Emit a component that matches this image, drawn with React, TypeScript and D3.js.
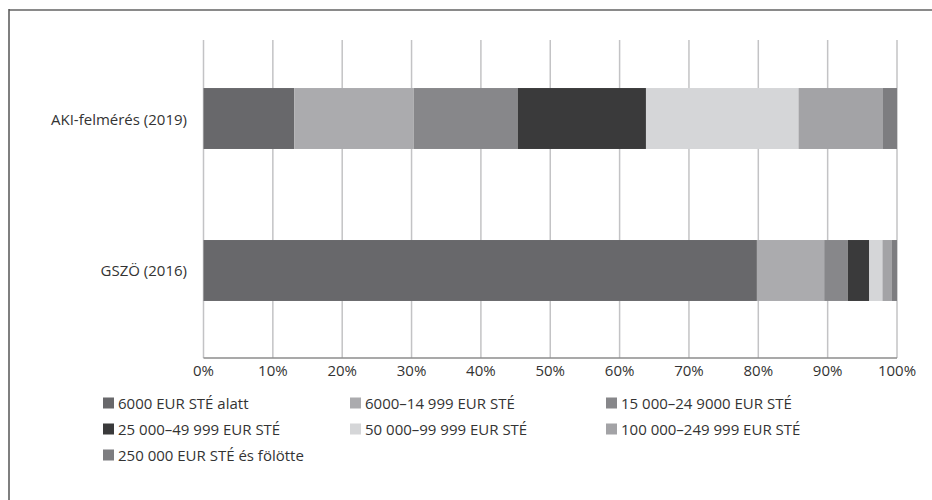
import React from "react";
import * as d3 from "d3";

const categories = ["AKI-felmérés (2019)", "GSZÖ (2016)"];
const seriesNames = [
  "6000 EUR STÉ alatt",
  "6000–14 999 EUR STÉ",
  "15 000–24 9000 EUR STÉ",
  "25 000–49 999 EUR STÉ",
  "50 000–99 999 EUR STÉ",
  "100 000–249 999 EUR STÉ",
  "250 000 EUR STÉ és fölötte",
];
const akiValues = [13.1, 17.2, 15.0, 18.5, 22.0, 12.1, 2.1];
const gszoValues = [79.8, 9.7, 3.4, 3.1, 1.9, 1.3, 0.8];
const colors = ["#68686b", "#ababae", "#87878a", "#3a3a3b", "#d5d6d8", "#a3a3a6", "#7d7d80"];
const tickValues = [0, 10, 20, 30, 40, 50, 60, 70, 80, 90, 100];

const FONT = "'Open Sans', Lato, sans-serif";

export default function App() {
  const W = 932;
  const H = 500;
  const x = d3.scaleLinear().domain([0, 100]).range([203.5, 897]);
  const y = d3
    .scaleBand<string>()
    .domain(categories)
    .range([40, 349])
    .paddingInner(0.599)
    .paddingOuter(0.316);
  const axisY = 358;
  const valuesByCat: Record<string, number[]> = {
    [categories[0]]: akiValues,
    [categories[1]]: gszoValues,
  };
  const rows = categories.map((c) => {
    const v = valuesByCat[c];
    const obj: Record<string, number | string> = { cat: c };
    seriesNames.forEach((s, i) => (obj[s] = v[i]));
    return obj;
  });
  const stack = d3.stack<Record<string, number | string>>().keys(seriesNames).value((d, k) => d[k] as number);
  const stacked = stack(rows);

  const legendCols = [103, 350, 606];
  const legendRows = [403, 429, 455];
  const fs = 15;
  const textColor = "#333";

  return (
    <svg
      width={W}
      height={H}
      style={{ position: "absolute", left: 0, top: 0, background: "#fff" }}
      fontFamily={FONT}
    >
      {/* frame */}
      <line x1={9} y1={10} x2={W} y2={10} stroke="#8a8a8a" strokeWidth={2} />
      <line x1={9} y1={9} x2={9} y2={H} stroke="#555" strokeWidth={1.5} />

      {/* gridlines */}
      {tickValues.map((t) => (
        <line key={t} x1={x(t)} x2={x(t)} y1={40} y2={axisY} stroke="#c3c3c5" strokeWidth={1.5} />
      ))}
      <line x1={x(0)} x2={x(100)} y1={axisY} y2={axisY} stroke="#8c8c8c" strokeWidth={1.5} />

      {/* bars */}
      {stacked.map((layer, i) =>
        layer.map((d) => {
          const cat = d.data.cat as string;
          return (
            <rect
              key={`${i}-${cat}`}
              x={x(d[0])}
              y={y(cat)}
              width={x(d[1]) - x(d[0])}
              height={y.bandwidth()}
              fill={colors[i]}
            />
          );
        })
      )}

      {/* category labels */}
      {categories.map((c) => (
        <text
          key={c}
          x={187}
          y={(y(c) as number) + y.bandwidth() / 2}
          textAnchor="end"
          dominantBaseline="central"
          fontSize={fs}
          fill={textColor}
        >
          {c}
        </text>
      ))}

      {/* x tick labels */}
      {tickValues.map((t) => (
        <text key={t} x={x(t)} y={370} textAnchor="middle" dominantBaseline="central" fontSize={fs} fill={textColor}>
          {`${t}%`}
        </text>
      ))}

      {/* legend */}
      {seriesNames.map((s, i) => {
        const lx = legendCols[i % 3];
        const ly = legendRows[Math.floor(i / 3)];
        return (
          <g key={s} transform={`translate(${lx},${ly})`}>
            <rect x={0} y={-5.5} width={11} height={11} fill={colors[i]} />
            <text x={15} y={0} dominantBaseline="central" fontSize={fs} fill={textColor}>
              {s}
            </text>
          </g>
        );
      })}
    </svg>
  );
}
